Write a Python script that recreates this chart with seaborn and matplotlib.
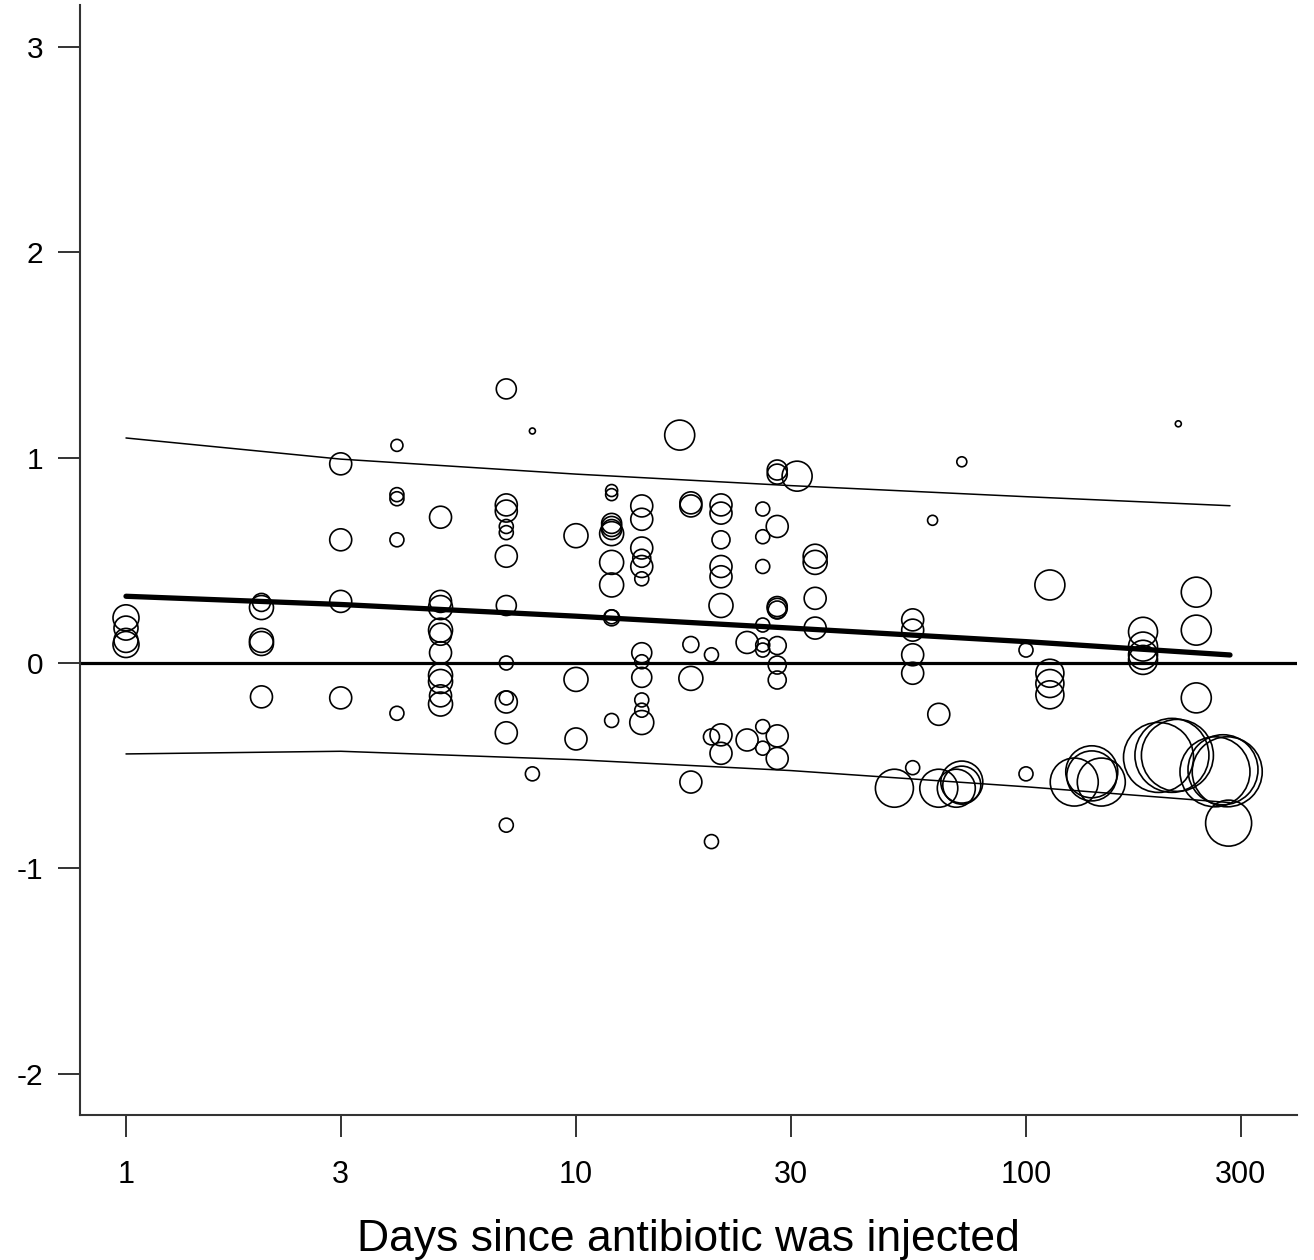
import numpy as np
import pandas as pd
import matplotlib
matplotlib.use("Agg")
import matplotlib.pyplot as plt
import seaborn as sns
from matplotlib.ticker import NullLocator

# Per-study observations: days since injection, effect size and study weight
study_day = (
    [1, 1, 1, 1]
    + [2, 2, 2, 2, 2]
    + [3, 3, 3, 3]
    + [4, 4, 4, 4, 4]
    + [5] * 10
    + [7] * 12
    + [8, 8]
    + [10, 10, 10]
    + [12] * 11
    + [14] * 12
    + [17]
    + [18] * 5
    + [20, 20, 20]
    + [21] * 8
    + [24, 24]
    + [26] * 8
    + [28] * 11
    + [31]
    + [34] * 4
    + [51]
    + [56] * 5
    + [62]
    + [64, 64]
    + [70]
    + [72, 72, 72]
    + [100, 100]
    + [113] * 4
    + [128]
    + [140, 140]
    + [147]
    + [182] * 4
    + [197, 211, 217, 218]
    + [239, 239, 239]
    + [263, 274, 280, 282]
)

effect_size = (
    [0.22, 0.17, 0.11, 0.09]
    + [0.295, 0.27, 0.11, 0.095, -0.165]
    + [0.97, 0.60, 0.30, -0.17]
    + [1.06, 0.82, 0.80, 0.60, -0.245]
    + [0.71, 0.30, 0.27, 0.16, 0.14, 0.05, -0.06, -0.09, -0.16, -0.20]
    + [1.335, 0.77, 0.74, 0.665, 0.635, 0.52, 0.28, 0.0, -0.17, -0.19, -0.34, -0.79]
    + [1.13, -0.54]
    + [0.62, -0.08, -0.37]
    + [0.84, 0.82, 0.68, 0.665, 0.65, 0.63, 0.49, 0.38, 0.225, 0.22, -0.28]
    + [0.765, 0.70, 0.56, 0.51, 0.47, 0.41, 0.05, 0.006, -0.07, -0.18, -0.23, -0.29]
    + [1.11]
    + [0.78, 0.765, 0.09, -0.075, -0.58]
    + [0.04, -0.36, -0.87]
    + [0.77, 0.73, 0.60, 0.47, 0.42, 0.28, -0.35, -0.44]
    + [0.10, -0.375]
    + [0.75, 0.615, 0.47, 0.185, 0.088, 0.063, -0.31, -0.415]
    + [0.94, 0.92, 0.665, 0.275, 0.266, 0.258, 0.085, -0.01, -0.083, -0.355, -0.465]
    + [0.91]
    + [0.52, 0.49, 0.315, 0.17]
    + [-0.61]
    + [0.21, 0.16, 0.04, -0.05, -0.51]
    + [0.695]
    + [-0.25, -0.61]
    + [-0.61]
    + [0.98, -0.58, -0.595]
    + [0.063, -0.54]
    + [0.38, -0.05, -0.10, -0.155]
    + [-0.58]
    + [-0.53, -0.55]
    + [-0.58]
    + [0.152, 0.08, 0.04, 0.015]
    + [-0.46, -0.45, -0.45, 1.165]
    + [0.345, 0.16, -0.17]
    + [-0.53, -0.52, -0.53, -0.78]
)

study_weight = (
    [1.69, 1.44, 1.44, 1.69]
    + [0.81, 1.44, 1.44, 1.44, 1.21]
    + [1.21, 1.21, 1.21, 1.21]
    + [0.36, 0.49, 0.49, 0.49, 0.49]
    + [1.21, 1.21, 1.44, 1.44, 1.21, 1.21, 1.44, 1.44, 1.21, 1.44]
    + [1.0, 1.21, 1.21, 0.49, 0.49, 1.21, 1.0, 0.49, 0.49, 1.21, 1.21, 0.49]
    + [0.09, 0.49]
    + [1.44, 1.44, 1.21]
    + [0.36, 0.36, 1.0, 1.0, 1.0, 1.44, 1.44, 1.44, 0.49, 0.64, 0.49]
    + [1.21, 1.21, 1.21, 0.81, 1.21, 0.49, 1.0, 0.49, 1.0, 0.49, 0.49, 1.44]
    + [2.25]
    + [1.21, 1.21, 0.64, 1.44, 1.21]
    + [0.49, 0.64, 0.49]
    + [1.21, 1.21, 0.81, 1.21, 1.21, 1.44, 1.21, 1.21]
    + [1.21, 1.21]
    + [0.49] * 8
    + [1.0, 1.0, 1.21, 1.0, 1.0, 0.81, 0.81, 0.81, 0.81, 1.21, 1.21]
    + [2.25]
    + [1.44, 1.44, 1.21, 1.21]
    + [3.61]
    + [1.21, 1.21, 1.21, 1.21, 0.49]
    + [0.25]
    + [1.21, 3.61]
    + [3.61]
    + [0.25, 4.41, 3.61]
    + [0.49, 0.49]
    + [2.25, 1.96, 1.96, 1.96]
    + [5.76]
    + [6.76, 6.25]
    + [5.76]
    + [2.1, 2.1, 2.1, 2.1]
    + [12.25, 13.69, 12.96, 0.09]
    + [2.25, 2.25, 2.25]
    + [12.25, 12.25, 12.25, 5.29]
)

# Meta-regression fit with its prediction band
fit_day = [1, 3, 10, 30, 100, 284]
fit_mean = [0.325, 0.285, 0.228, 0.17, 0.104, 0.039]
fit_upper = [1.096, 0.993, 0.92, 0.864, 0.81, 0.766]
fit_lower = [-0.443, -0.43, -0.471, -0.524, -0.603, -0.68]

x_ticks = [1, 3, 10, 30, 100, 300]
x_tick_labels = ["1", "3", "10", "30", "100", "300"]
y_ticks = [-2, -1, 0, 1, 2, 3]

studies = pd.DataFrame({"day": study_day, "effect": effect_size, "weight": study_weight})
fit = pd.DataFrame({"day": fit_day, "mean": fit_mean, "upper": fit_upper, "lower": fit_lower})

sns.set_style("white")
plt.rcParams["font.family"] = ["Liberation Sans", "DejaVu Sans"]

DPI = 100
fig = plt.figure(figsize=(13.14, 12.6), dpi=DPI)
ax = fig.add_axes([80 / 1314, 145 / 1260, 1217 / 1314, 1110 / 1260])

# bubble area proportional to study weight
area_per_weight = 207.36
wmin, wmax = min(study_weight), max(study_weight)
sns.scatterplot(
    data=studies, x="day", y="effect", size="weight",
    sizes=(area_per_weight * wmin, area_per_weight * wmax), size_norm=(wmin, wmax),
    facecolor="none", edgecolor="black", linewidth=1.2, legend=False, ax=ax,
)

for col, lw in [("upper", 1.1), ("lower", 1.1), ("mean", 3.8)]:
    sns.lineplot(
        data=fit, x="day", y=col, estimator=None, sort=False, color="black",
        linewidth=lw, solid_capstyle="round", ax=ax,
    )

ax.axhline(0, color="black", linewidth=2.3, zorder=1)

ax.set_xscale("log")
ax.set_xlim(10 ** (-46 / 450), 10 ** (1171 / 450))
ax.set_ylim(-2.2017, 3.205)

ax.set_xticks(x_ticks)
ax.set_xticklabels(x_tick_labels)
ax.xaxis.set_minor_locator(NullLocator())
ax.set_yticks(y_ticks)
ax.set_yticklabels([str(v) for v in y_ticks])

for side in ["top", "right"]:
    ax.spines[side].set_visible(False)
for side in ["left", "bottom"]:
    ax.spines[side].set_color("#333333")
    ax.spines[side].set_linewidth(1.5)

ax.tick_params(axis="both", which="major", direction="out", length=15.8, width=1.4,
               color="#333333", labelcolor="black", bottom=True, left=True)
ax.tick_params(axis="x", labelsize=22, pad=16.5)
ax.tick_params(axis="y", labelsize=21.5, pad=10.8)

ax.set_ylabel("")
ax.set_xlabel("Days since antibiotic was injected", fontsize=32, labelpad=21,
              color="black")

fig.savefig("out.png", dpi=DPI)
